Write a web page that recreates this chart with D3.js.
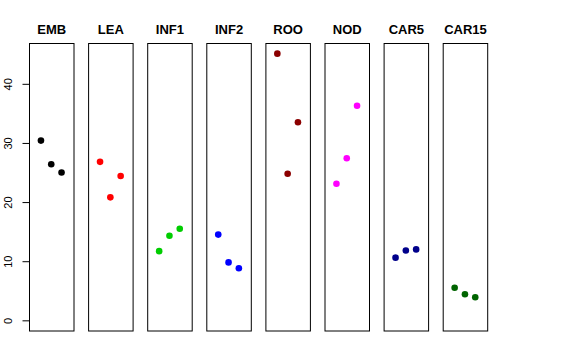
<!DOCTYPE html>
<html><head><meta charset="utf-8">
<script src="https://cdn.jsdelivr.net/npm/d3@7"></script>
<style>body{margin:0;background:#fff}svg{display:block}</style>
</head><body><svg id="c" width="576" height="360"></svg>
<script>
const groups = ["EMB","LEA","INF1","INF2","ROO","NOD","CAR5","CAR15"];
const colors = ["#000000","#FF0000","#00CD00","#0000FF","#8B0000","#FF00FF","#00008B","#006400"];
const values = [
  [30.4, 26.4, 25.0],
  [26.8, 20.8, 24.4],
  [11.7, 14.3, 15.5],
  [14.5, 9.8, 8.8],
  [45.1, 24.8, 33.5],
  [23.1, 27.4, 36.3],
  [10.6, 11.8, 12.0],
  [5.5, 4.4, 3.9]
];
const yTicks = [0,10,20,30,40];

const svg = d3.select("#c");
const ymax = d3.max(values.flat());
const pad = 0.04*ymax;
const y = d3.scaleLinear().domain([0-pad, ymax+pad]).range([331, 43]);
const panelW = 44.5, pitch = 59.1, left0 = 29;
const font = "'Liberation Sans', Arial, Helvetica, sans-serif";

groups.forEach((g,i)=>{
  const x0 = left0 + i*pitch;
  const x = d3.scaleLinear().domain([-0.16, 4.16]).range([x0, x0+panelW]);
  const p = svg.append("g");
  p.append("rect").attr("x",x0+0.5).attr("y",43.5).attr("width",panelW).attr("height",287.5)
    .attr("fill","none").attr("stroke","#000").attr("stroke-width",1);
  p.selectAll("circle").data(values[i]).join("circle")
    .attr("cx",(d,j)=>x(j+1)).attr("cy",d=>y(d)).attr("r",3.3).attr("fill",colors[i]);
  p.append("text").attr("x",x0+panelW/2+0.5).attr("y",33.5).attr("text-anchor","middle")
    .attr("font-family",font).attr("font-weight","bold").attr("font-size",13).text(g);
});

const axis = d3.axisLeft(y).tickValues(yTicks).tickSize(7).tickPadding(4);
const ag = svg.append("g").attr("transform","translate(29.5,0)").call(axis);
ag.select(".domain").attr("d",`M0,${y(0)}V${y(40)}`).attr("stroke","#000");
ag.selectAll(".tick line").attr("stroke","#000");
ag.selectAll(".tick text").attr("font-family",font).attr("font-size",11).attr("fill","#000")
  .attr("text-anchor","middle").attr("dy",0)
  .attr("transform",function(){return "translate(-17.5,0) rotate(-90)";})
  .attr("x",0).attr("y",0);
</script></body></html>
